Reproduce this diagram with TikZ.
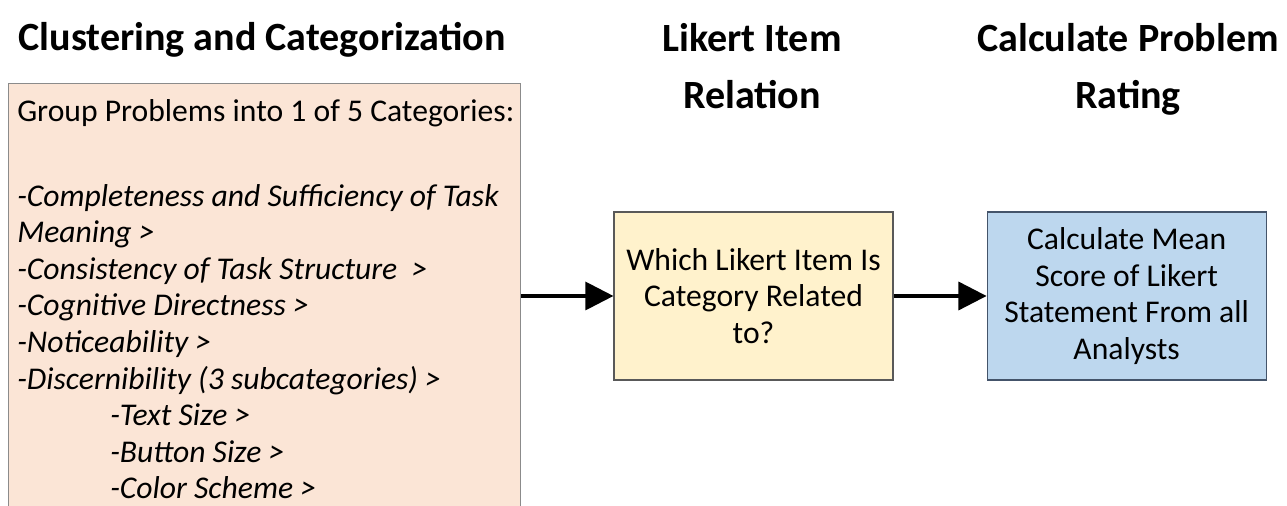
\documentclass[tikz,border=0pt]{standalone}
\usepackage{fontspec}
\setmainfont{Carlito}
\usetikzlibrary{arrows.meta,positioning}
\definecolor{peach}{HTML}{FBE5D6}
\definecolor{cream}{HTML}{FFF2CC}
\definecolor{paleblue}{HTML}{BDD7EE}
\definecolor{boxline}{HTML}{595959}
\definecolor{blueline}{HTML}{44546A}
\begin{document}
\begin{tikzpicture}[
    stage/.style={draw=boxline, line width=0.8pt, minimum width=6.975cm, minimum height=4.2cm,
      align=center, inner sep=0pt, font=\fontsize{22.5}{26}\selectfont},
    heading/.style={align=center, inner sep=0pt, font=\fontsize{28.5}{40.5}\selectfont\bfseries},
    flow/.style={line width=2.2pt, -{Triangle[length=20pt,width=20pt]}}]
  \useasboundingbox (0,0) rectangle (32.175,12.65);
  \clip (0,0) rectangle (32.175,12.65);
  \node [stage, fill=peach, draw=boxline!70, anchor=north west, minimum width=12.8cm,
    minimum height=11cm] (cats) at (0.2,10.575) {};
  \node [anchor=north west, align=left, inner sep=0pt, font=\fontsize{22.5}{26}\selectfont]
    (catlist) at (0.425,10.175) {Group Problems into 1 of 5 Categories:\\[34.5pt]
    \itshape -Completeness and Sufficiency of Task\\
    \itshape Meaning >\\
    \itshape -Consistency of Task Structure~ >\\
    \itshape -Cognitive Directness >\\
    \itshape -Noticeability >\\
    \itshape -Discernibility (3 subcategories) >\\
    \hspace*{2.325cm}\itshape -Text Size >\\
    \hspace*{2.325cm}\itshape -Button Size >\\
    \hspace*{2.325cm}\itshape -Color Scheme >};
  \node [stage, fill=cream] (likert) at (18.8375,5.25) {Which Likert Item Is\\Category Related\\to?};
  \node [stage, fill=paleblue, draw=blueline, right=2.325cm of likert] (rating)
    {Calculate Mean\\Score of Likert\\Statement From all\\Analysts};
  \node [heading, anchor=base] (cathead) at (6.55,11.375) {Clustering and Categorization};
  \node [heading, anchor=north] (likerthead) at (18.8,12.075) {Likert Item\\Relation};
  \node [heading, anchor=north] (ratinghead) at (28.2,12.075) {Calculate Problem\\Rating};
  \draw [flow] (cats.east |- likert.west) -- (likert.west);
  \draw [flow] (likert) -- (rating);
\end{tikzpicture}
\end{document}
